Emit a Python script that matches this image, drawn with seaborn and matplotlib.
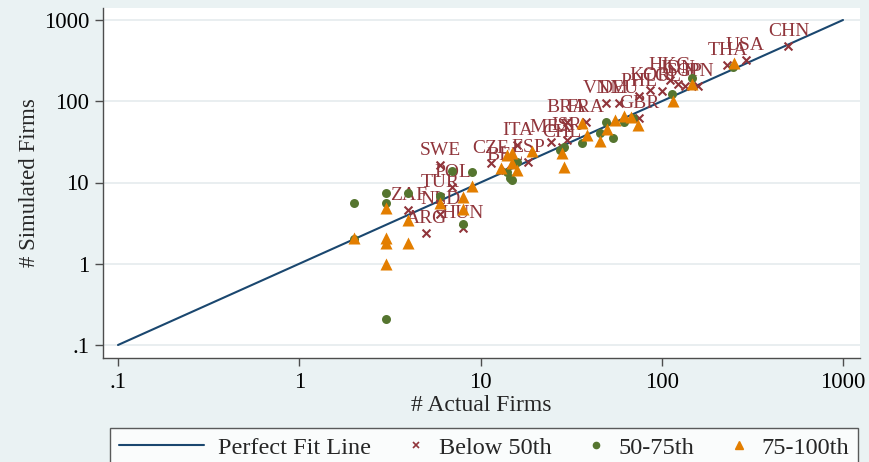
import matplotlib
matplotlib.use("Agg")
import matplotlib.pyplot as plt
from matplotlib.lines import Line2D
from matplotlib.legend_handler import HandlerLine2D
import pandas as pd
import seaborn as sns

# Countries below the 50th percentile (labelled)
low_country = ["CHN", "USA", "THA", "HKG", "IDN", "SGP", "JPN", "KOR", "COL", "PHL",
               "VNM", "DEU", "GBR", "BRA", "FRA", "ITA", "MEX", "ISR", "CHL", "CZE",
               "ESP", "BEL", "SWE", "POL", "TUR", "ZAF", "NLD", "ARG", "HUN"]
low_actual = [500, 290, 230, 111, 123, 134, 158, 86, 100, 75,
              49, 58, 75, 30, 38, 16, 24.5, 30, 28, 11.4,
              18.3, 13.6, 6, 7, 6, 4, 6, 5, 8]
low_sim = [479, 320, 280, 183, 165, 154, 154, 137, 134, 116,
           95, 95, 62, 56, 56, 29, 31.5, 33, 27, 17.4,
           17.9, 14.3, 16.4, 8.8, 6.6, 4.6, 4.1, 2.4, 2.75]

# 50th-75th percentile
mid_actual = [2, 2, 3, 3, 3, 4, 6, 7, 9, 8, 14, 14.5, 15, 16, 27.5, 29, 36.5,
              45.5, 49, 54, 62, 69, 114, 147, 247]
mid_sim = [5.6, 2.0, 7.4, 5.6, 0.21, 7.4, 6.8, 13.9, 13.5, 3.1, 13.5, 11.4, 10.7,
           17.9, 25.1, 27.4, 30.6, 40.6, 56, 35.3, 56, 62, 123, 193, 264]

# 75th-100th percentile
top_actual = [2, 3, 3, 3, 3, 4, 4, 6, 8, 8, 9, 13, 14, 15, 15, 16, 19.2, 28, 29,
              36.5, 38.7, 45.5, 50, 55, 62, 68, 74, 115, 147, 250]
top_sim = [2.1, 4.9, 2.1, 1.8, 1.0, 3.5, 1.8, 5.6, 6.6, 4.7, 9.1, 15.1, 21.8, 23.1,
           17.4, 14.3, 24.4, 23.1, 15.5, 54, 38.4, 32.4, 45.5, 59, 66, 64, 51, 101,
           163, 296]

fit_line = [0.1, 1000]
ticks = [0.1, 1, 10, 100, 1000]
tick_labels = [".1", "1", "10", "100", "1000"]

navy = "#1a476f"
maroon = "#90353b"
green = "#55752f"
orange = "#e37e00"
bg = "#eaf2f3"

sns.set_theme(style="white")
plt.rcParams["font.family"] = ["Liberation Serif", "DejaVu Serif"]

fig = plt.figure(figsize=(8.69, 4.62), dpi=100, facecolor=bg)
ax = fig.add_axes([103 / 869, 1 - 358 / 462, 757 / 869, 350 / 462])
ax.set_facecolor("white")

low_df = pd.DataFrame({"actual": low_actual, "sim": low_sim, "country": low_country})
mid_df = pd.DataFrame({"actual": mid_actual, "sim": mid_sim})
top_df = pd.DataFrame({"actual": top_actual, "sim": top_sim})
line_df = pd.DataFrame({"actual": fit_line, "sim": fit_line})

sns.lineplot(data=line_df, x="actual", y="sim", color=navy, linewidth=1.5,
             ax=ax, zorder=2)
sns.scatterplot(data=low_df, x="actual", y="sim", marker="x", color=maroon,
                s=32, linewidth=1.5, ax=ax, zorder=3, legend=False)
for _, r in low_df.iterrows():
    ax.annotate(r["country"], (r["actual"], r["sim"]), xytext=(0, 10.5),
                textcoords="offset points", ha="center", va="center",
                color=maroon, fontsize=14, zorder=3)
sns.scatterplot(data=mid_df, x="actual", y="sim", marker="o", color=green,
                s=42, edgecolor=green, linewidth=0, ax=ax, zorder=4, legend=False)
sns.scatterplot(data=top_df, x="actual", y="sim", marker="^", color=orange,
                s=75, edgecolor=orange, linewidth=0, ax=ax, zorder=5, legend=False)

ax.set_xscale("log")
ax.set_yscale("log")
ax.set_xlim(10 ** (-1 - 15 / 181.25), 10 ** (3 + 17 / 181.25))
ax.set_ylim(10 ** (-1 - 13 / 81.25), 10 ** (3 + 12 / 81.25))
ax.set_xticks(ticks)
ax.set_xticklabels(tick_labels)
ax.set_yticks(ticks)
ax.set_yticklabels(tick_labels)
ax.minorticks_off()
ax.tick_params(axis="both", which="major", direction="out", length=5.5, width=1,
               color="#4d4d4d", labelsize=16.5, labelcolor="black", pad=4.5,
               left=True, bottom=True)
ax.yaxis.grid(True, color="#e3eaec", linewidth=1.1)
ax.xaxis.grid(False)
ax.set_axisbelow(True)
for side in ("top", "right"):
    ax.spines[side].set_visible(False)
for side in ("left", "bottom"):
    ax.spines[side].set_color("#4d4d4d")
    ax.spines[side].set_linewidth(1)

ax.set_xlabel("# Actual Firms", fontsize=17, labelpad=1.5)
ax.set_ylabel("# Simulated Firms", fontsize=16.5, labelpad=3)


class RightMarker(HandlerLine2D):
    """Put the legend marker near the text instead of the handle centre."""
    def get_xdata(self, legend, xdescent, ydescent, width, height, fontsize):
        x = -xdescent + width - 0.35 * fontsize
        return [x, x], [x]


handles = [
    Line2D([], [], color=navy, linewidth=1.5),
    Line2D([], [], color=maroon, marker="x", linestyle="none", markersize=4.5,
           markeredgewidth=1.2),
    Line2D([], [], color=green, marker="o", linestyle="none", markersize=4.5),
    Line2D([], [], color=orange, marker="^", linestyle="none", markersize=5.5),
]
labels = ["Perfect Fit Line", "Below 50th", "50-75th", "75-100th"]
leg = fig.legend(handles, labels, loc="upper left", ncol=4, mode="expand",
                 bbox_to_anchor=(110 / 869, 1 - 428 / 462, 748 / 869, 0),
                 borderaxespad=0, fontsize=17.5, handlelength=3.5,
                 handletextpad=0.6, borderpad=0.35, frameon=True, fancybox=False,
                 edgecolor="#333333", facecolor="white",
                 handler_map={handles[1]: RightMarker(), handles[2]: RightMarker(),
                              handles[3]: RightMarker()})
leg.get_frame().set_linewidth(1)

fig.savefig("out.png", dpi=100, facecolor=bg)
